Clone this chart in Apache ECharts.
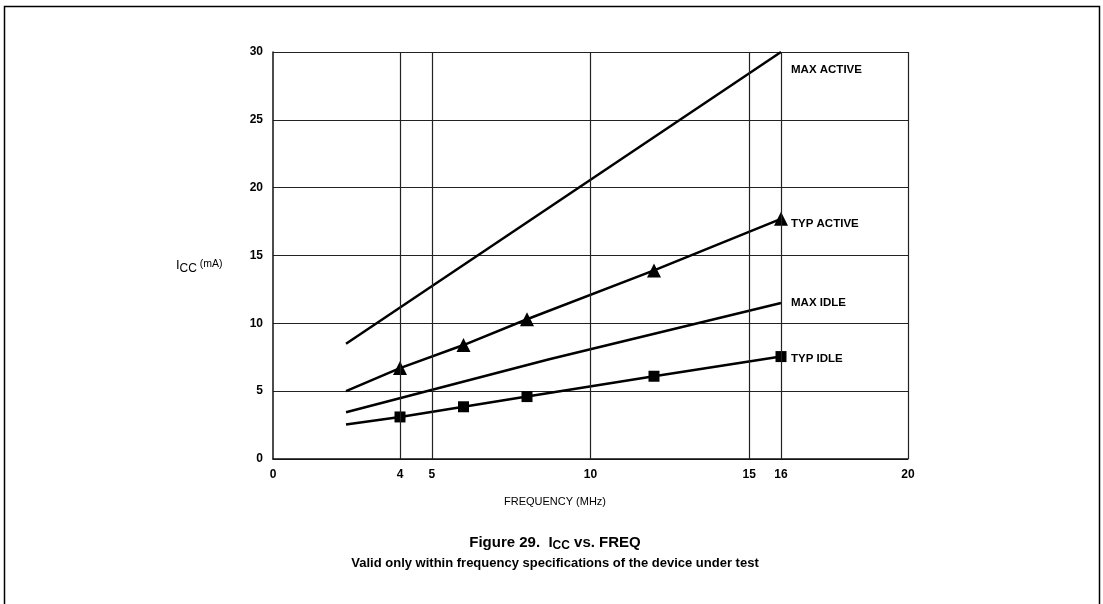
<!DOCTYPE html>
<html>
<head>
	<meta charset="utf-8" />
	<title>Icc vs. FREQ</title>
	<script src="https://cdn.jsdelivr.net/npm/echarts@6/dist/echarts.min.js"></script>
	<style>
		html, body { margin: 0; padding: 0; background: #fff; }
		#main { width: 1103px; height: 604px; }
	</style>
</head>
<body>
	<div id="main"></div>
	<script type="text/javascript">
		// data (MHz, mA)
		var startFreq = 2.3;
		var endFreq = 16;
		var markFreq = [4, 6, 8, 12, 16];
		var maxActive = [8.5, 30];
		var maxIdleFreq = [2.3, 8.7, 16];
		var maxIdle = [3.45, 7.35, 11.5];
		var typActiveStart = 5.0;
		var typActive = [6.7, 8.4, 10.3, 13.9, 17.7];
		var typIdleStart = 2.55;
		var typIdle = [3.1, 3.85, 4.6, 6.1, 7.55];
		var xTicks = [0, 4, 5, 10, 15, 16, 20];
		var xGridLines = [4, 5, 10, 15, 16, 20];

		var font = 'Liberation Sans, Arial, sans-serif';

		function pairs(xs, ys) {
			var out = [];
			for (var i = 0; i < xs.length; i++) {
				out.push([xs[i], ys[i]]);
			}
			return out;
		}

		// first point is the bare start of the curve, no marker
		function withStart(y0, ys) {
			var out = [{ value: [startFreq, y0], symbol: 'none' }];
			return out.concat(pairs(markFreq, ys));
		}

		// curve name next to its last point
		function endLabel(text, offset) {
			return {
				show: true,
				distance: 10,
				offset: offset || [0, 0],
				formatter: text,
				color: '#000',
				fontFamily: font,
				fontWeight: 'bold',
				fontSize: 11.5
			};
		}

		var lineStyle = { color: '#000', width: 2.5 };

		var option = {
			animation: false,
			backgroundColor: '#fff',
			grid: { left: 273, right: 195, top: 52, bottom: 145 },
			xAxis: {
				type: 'value',
				min: 0,
				max: 20,
				splitLine: { show: false },
				axisTick: { show: false },
				axisLine: { show: true, onZero: false, lineStyle: { color: '#111', width: 1.5 } },
				axisLabel: {
					customValues: xTicks,
					margin: 10,
					color: '#000',
					fontFamily: font,
					fontWeight: 'bold',
					fontSize: 12
				}
			},
			yAxis: {
				type: 'value',
				min: 0,
				max: 30,
				interval: 5,
				axisTick: { show: false },
				axisLine: { show: true, lineStyle: { color: '#111', width: 1.5 } },
				splitLine: { show: true, lineStyle: { color: '#222', width: 1.2 } },
				axisLabel: {
					margin: 10,
					color: '#000',
					fontFamily: font,
					fontWeight: 'bold',
					fontSize: 12
				}
			},
			series: [{
				name: 'MAX ACTIVE',
				type: 'line',
				symbol: 'none',
				lineStyle: lineStyle,
				data: pairs([startFreq, endFreq], maxActive),
				endLabel: endLabel('MAX ACTIVE', [0, 18]),
				markLine: {
					silent: true,
					symbol: 'none',
					label: { show: false },
					lineStyle: { color: '#222', width: 1.2, type: 'solid' },
					data: xGridLines.map(function (v) { return { xAxis: v }; })
				},
				z: 3
			}, {
				name: 'TYP ACTIVE',
				type: 'line',
				symbol: 'triangle',
				symbolSize: 14,
				itemStyle: { color: '#000' },
				lineStyle: lineStyle,
				data: withStart(typActiveStart, typActive),
				endLabel: endLabel('TYP ACTIVE', [0, 5]),
				z: 3
			}, {
				name: 'MAX IDLE',
				type: 'line',
				symbol: 'none',
				lineStyle: lineStyle,
				data: pairs(maxIdleFreq, maxIdle),
				endLabel: endLabel('MAX IDLE', [0, 0]),
				z: 3
			}, {
				name: 'TYP IDLE',
				type: 'line',
				symbol: 'rect',
				symbolSize: 11,
				itemStyle: { color: '#000' },
				lineStyle: lineStyle,
				data: withStart(typIdleStart, typIdle),
				endLabel: endLabel('TYP IDLE', [0, 2]),
				z: 3
			}],
			graphic: [{
				type: 'rect',
				shape: { x: 4.5, y: 6.5, width: 1095, height: 700 },
				style: { fill: 'none', stroke: '#000', lineWidth: 1.5 },
				silent: true
			}, {
				type: 'text',
				left: 176,
				top: 259,
				style: {
					text: '{a|I}{b|CC}{c| (mA)}',
					rich: {
						a: { fontFamily: font, fontSize: 13, fill: '#000' },
						b: { fontFamily: font, fontSize: 12, fill: '#000', padding: [6, 0, 0, 0] },
						c: { fontFamily: font, fontSize: 10.5, fill: '#000', padding: [0, 0, 2, 0] }
					}
				}
			}, {
				type: 'text',
				x: 555,
				y: 502,
				style: {
					text: 'FREQUENCY (MHz)',
					fontFamily: font,
					fontSize: 11,
					fill: '#000',
					align: 'center',
					verticalAlign: 'middle'
				}
			}, {
				type: 'text',
				x: 555,
				y: 543,
				style: {
					text: '{t|Figure 29.  I}{s|CC}{t| vs. FREQ}',
					align: 'center',
					verticalAlign: 'middle',
					rich: {
						t: { fontFamily: font, fontSize: 15, fontWeight: 'bold', fill: '#000' },
						s: { fontFamily: font, fontSize: 12, fontWeight: 'bold', fill: '#000', padding: [6, 0, 0, 0] }
					}
				}
			}, {
				type: 'text',
				x: 555,
				y: 563,
				style: {
					text: 'Valid only within frequency specifications of the device under test',
					fontFamily: font,
					fontSize: 13,
					fontWeight: 'bold',
					fill: '#000',
					align: 'center',
					verticalAlign: 'middle'
				}
			}]
		};

		var myChart = echarts.init(document.getElementById('main'));
		myChart.setOption(option);
	</script>
</body>
</html>
